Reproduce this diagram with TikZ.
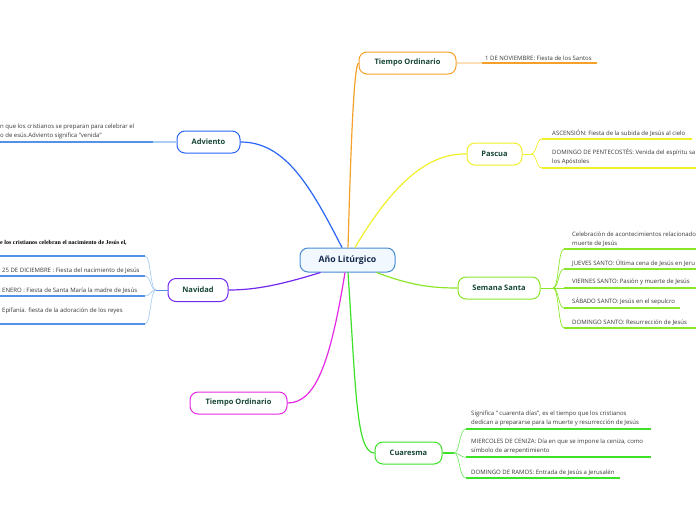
\documentclass[tikz,border=0pt]{standalone}
\usepackage{fontspec}
\setmainfont{Open Sans}
\newfontfamily\timesfont{Liberation Serif}
\usetikzlibrary{calc}
\definecolor{rootcol}{RGB}{70,140,210}
\definecolor{rootfill}{RGB}{242,248,255}
\definecolor{ordcol}{RGB}{245,160,40}
\definecolor{ordpale}{RGB}{252,222,185}
\definecolor{pascol}{RGB}{240,240,40}
\definecolor{semcol}{RGB}{140,230,40}
\definecolor{cuacol}{RGB}{60,225,40}
\definecolor{magcol}{RGB}{230,40,230}
\definecolor{navcol}{RGB}{115,40,240}
\definecolor{advcol}{RGB}{40,100,245}
\definecolor{bluelf}{RGB}{85,145,230}
\definecolor{bluepale}{RGB}{170,205,240}
\definecolor{topictext}{RGB}{22,70,55}
\definecolor{roottext}{RGB}{20,40,75}
\definecolor{leaftext}{RGB}{55,55,55}

\begin{document}
\begin{tikzpicture}[x=1pt,y=-1pt,
  topic/.style={draw,rounded corners=8pt,line width=1pt,fill=white,minimum height=22pt,
    inner sep=0pt,font=\bfseries\fontsize{7.5}{9}\selectfont,text=topictext},
  leaf/.style={anchor=south west,inner xsep=0pt,inner ysep=2.6pt,align=left,
    font=\fontsize{6}{9}\selectfont,text=leaftext},
  branch/.style={line width=1.2pt},
  twig/.style={line width=0.7pt},
  uline/.style={line width=1.5pt}]
  \useasboundingbox (0,0) rectangle (696,520);

  % main topics
  \node[topic,draw=rootcol,fill=rootfill,minimum width=95pt,minimum height=24pt,
    font=\bfseries\fontsize{8.7}{10}\selectfont,text=roottext] (root) at (347.5,260) {Año Litúrgico};
  \node[topic,draw=ordcol,minimum width=97pt] (ordA) at (407.5,63) {Tiempo Ordinario};
  \node[topic,draw=pascol,minimum width=55pt] (pascua) at (494.5,154) {Pascua};
  \node[topic,draw=semcol,minimum width=82pt] (semana) at (499,288) {Semana Santa};
  \node[topic,draw=cuacol,minimum width=67pt] (cuaresma) at (408.5,453) {Cuaresma};
  \node[topic,draw=magcol,minimum width=97pt] (ordB) at (238.5,403) {Tiempo Ordinario};
  \node[topic,draw=navcol,minimum width=60pt,minimum height=23pt] (navidad) at (198,290) {Navidad};
  \node[topic,draw=advcol,minimum width=63pt] (adviento) at (208.5,142) {Adviento};

  % branches from the root
  \draw[branch,ordcol] ([xshift=0.5pt]root.north) .. controls (351,140) and (354,66) .. (ordA.west);
  \draw[branch,advcol] ([xshift=-5.5pt]root.north) .. controls (310,185) and (285,142) .. (adviento.east);
  \draw[branch,pascol] ([xshift=7.5pt]root.north) .. controls (395,180) and (430,153) .. (pascua.west);
  \draw[branch,semcol] ([xshift=29pt]root.south) .. controls (410,285) and (430,288) .. (semana.west);
  \draw[branch,navcol] ([xshift=-27pt]root.south) .. controls (280,285) and (255,290) .. (navidad.east);
  \draw[branch,magcol] ([xshift=-2.5pt]root.south) .. controls (330,365) and (315,403) .. (ordB.east);
  \draw[branch,cuacol] ([xshift=0.5pt]root.south) .. controls (356,390) and (356,453) .. (cuaresma.west);

  % Tiempo Ordinario (top)
  \coordinate (oa1) at (482,63);
  \coordinate (oa1e) at (597,63);
  \draw[twig,ordpale,line width=1.2pt] (ordA.east) -- (oa1);
  \draw[uline,ordcol] (oa1) -- (oa1e);
  \node[leaf] (nov) at (485,63) {1 DE NOVIEMBRE: Fiesta de los Santos};

  % Pascua
  \coordinate (pa) at (531,154);
  \coordinate (pa1) at (542,139);
  \coordinate (pa1e) at (692,139);
  \coordinate (pa2) at (542,168);
  \coordinate (pa2e) at (700,168);
  \draw[twig,pascol] (pascua.east) -- (pa);
  \draw[twig,pascol] (pa) .. controls (537,154) and (536,139) .. (pa1);
  \draw[twig,pascol] (pa) .. controls (537,154) and (536,168) .. (pa2);
  \draw[uline,pascol] (pa1) -- (pa1e);
  \draw[uline,pascol] (pa2) -- (pa2e);
  \node[leaf] (asc) at (552,139) {ASCENSIÓN: Fiesta de la subida de Jesús al cielo};
  \node[leaf] (pent) at (552,168) {DOMINGO DE PENTECOSTÉS: Venida del espíritu sa\\los Apóstoles};

  % Semana Santa
  \coordinate (sa) at (553,288);
  \draw[twig,semcol] (semana.east) -- (sa);
  \foreach \i/\y/\e in {1/249/700,2/269/700,3/288/700,4/308/680,5/328/700}{
    \coordinate (sa\i) at (564,\y);
    \draw[twig,semcol] (sa) .. controls (559,288) and (558,\y) .. (sa\i);
    \draw[uline,semcol] (sa\i) -- (\e,\y);
  }
  \node[leaf] (cel) at (572,249) {Celebración de acontecimientos relacionado\\muerte de Jesús};
  \node[leaf] (jue) at (572,269) {JUEVES SANTO: Última cena de Jesús en Jeru};
  \node[leaf] (vie) at (572,288) {VIERNES SANTO: Pasión y muerte de Jesús};
  \node[leaf] (sab) at (572,308) {SÁBADO SANTO: Jesús en el sepulcro};
  \node[leaf] (dom) at (572,328) {DOMINGO SANTO: Resurrección de Jesús};

  % Cuaresma
  \coordinate (cu) at (454,453);
  \draw[twig,cuacol,line width=1.2pt] (cuaresma.east) -- (cu);
  \foreach \i/\y/\e in {1/429/651,2/457/651,3/478/620}{
    \coordinate (cu\i) at (466,\y);
    \draw[twig,cuacol!70] (cu) .. controls (460,453) and (459,\y) .. (cu\i);
    \draw[uline,cuacol] (cu\i) -- (\e,\y);
  }
  \node[leaf] (cua) at (471,429) {Significa " cuarenta días", es el tiempo que los cristianos\\dedican a prepararse para la muerte y resurrección de Jesús};
  \node[leaf] (ceniza) at (471,457) {MIERCOLES DE CENIZA: Día en que se impone la ceniza, como\\símbolo de arrepentimiento};
  \node[leaf] (ramos) at (471,478) {DOMINGO DE RAMOS: Entrada de Jesús a Jerusalén};

  % Navidad
  \coordinate (na) at (156,290);
  \draw[twig,bluelf] (navidad.west) -- (na);
  \foreach \i/\y in {1/256,2/276,3/296,4/324}{
    \coordinate (na\i) at (145,\y);
    \draw[twig,bluepale] (na) .. controls (150,290) and (151,\y) .. (na\i);
    \draw[uline,bluelf] (na\i) -- (-2,\y);
  }
  \node[leaf,font=\timesfont\bfseries\fontsize{6}{9}\selectfont,text=black] (nac) at (0,256)
    {e los cristianos celebran el nacimiento de Jesús el,\\ \mbox{}};
  \node[leaf] (dic) at (2,276) {25 DE DICIEMBRE : Fiesta del nacimiento de Jesús};
  \node[leaf] (ene) at (2,296) {ENERO : Fiesta de Santa María la madre de Jesús};
  \node[leaf] (epi) at (2,324) {Epifanía. fiesta de la adoración de los reyes\\ \mbox{}};

  % Adviento
  \coordinate (ad1) at (153,142);
  \draw[twig,bluepale,line width=1.2pt] (adviento.west) -- (ad1);
  \draw[uline,bluelf] (ad1) -- (-2,142);
  \node[leaf] (adv) at (0,142) {n que los cristianos se preparan para celebrar el\\o de esús.Adviento significa "venida"};
\end{tikzpicture}
\end{document}
